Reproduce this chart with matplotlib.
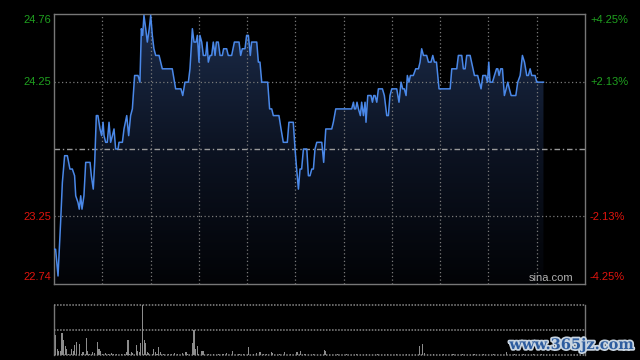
import matplotlib
matplotlib.use('Agg')
import matplotlib.pyplot as plt
import numpy as np
from matplotlib.colors import LinearSegmentedColormap
import matplotlib.patheffects as pe

plt.rcParams['font.family'] = ['Liberation Sans', 'DejaVu Sans']

prev_close = 23.75
price_span = 1.01

minutes = [0.0, 1.0, 2.5, 4.1, 5.2, 6.6, 8.3, 9.9, 11.4, 12.8, 13.5, 14.9, 15.7, 16.6, 17.4, 18.6,
           19.7, 22.4, 23.2, 24.4, 25.3, 26.3, 27.3, 28.6, 29.6, 30.5, 31.1, 32.1, 33.1, 34.2, 35.2,
           36.3, 37.3, 38.3, 39.8, 40.4, 42.5, 43.5, 45.2, 46.4, 47.6, 48.7, 50.1, 52.2, 53.4, 54.3,
           55.1, 55.9, 57.0, 58.0, 59.2, 60.1, 61.1, 62.1, 63.2, 65.3, 67.3, 73.5, 75.6, 78.9, 80.0,
           81.4, 83.5, 84.5, 86.0, 87.0, 88.3, 89.1, 90.1, 90.7, 91.8, 92.8, 94.3, 95.1, 95.9, 97.0,
           98.0, 99.0, 100.1, 100.9, 102.1, 103.2, 104.6, 105.4, 107.3, 108.3, 110.4, 112.1, 115.0,
           116.0, 117.0, 118.7, 119.7, 120.8, 122.0, 122.8, 126.0, 127.0, 128.0, 129.1, 132.8, 134.0,
           135.3, 136.3, 139.8, 141.1, 142.5, 145.0, 146.0, 148.7, 149.8,
           150.8, 151.9, 152.9, 153.9, 155.0, 157.1, 158.1, 159.1, 160.2, 161.2, 162.2, 163.3, 166.4,
           167.6, 168.9, 172.6, 173.6, 175.1, 185.0, 186.1, 186.7, 187.5, 188.3, 189.2, 190.4, 191.2,
           192.3, 193.3, 193.9, 195.0, 197.0, 197.9, 198.7, 199.5, 200.6, 201.6, 204.1, 205.3, 206.8,
           207.8, 208.8, 209.9, 213.0, 214.4, 215.7, 216.7, 217.7, 218.8, 219.6, 220.6, 221.5, 223.3,
           224.8, 226.5, 227.5, 228.5, 229.6, 231.6, 232.7, 234.3, 235.4, 236.4, 237.7, 239.3, 246.2,
           247.2, 250.3, 251.3, 253.4, 254.4, 255.5, 256.5, 258.6, 261.3, 263.3, 265.4, 266.5, 268.3,
           269.4, 270.2, 271.0, 272.5, 273.7, 275.0, 275.8, 276.6, 277.6, 278.7, 279.9, 281.0, 282.0,
           283.0, 284.1, 287.0, 288.2, 289.7, 291.1, 292.4, 293.8, 294.8, 295.9, 296.9, 299.0, 300.0,
           304.2]
prices = [23.00, 23.00, 22.80, 23.20, 23.50, 23.70, 23.70, 23.60, 23.60, 23.55, 23.40, 23.35, 23.30, 23.40, 23.30, 23.40,
          23.65, 23.65, 23.55, 23.45, 23.65, 24.00, 24.00, 23.90, 23.85, 23.95, 23.85, 23.80, 23.80, 23.95, 23.80,
          23.85, 23.90, 23.75, 23.75, 23.80, 23.80, 23.90, 24.00, 23.85, 24.00, 24.05, 24.30, 24.30, 24.25, 24.65,
          24.60, 24.75, 24.65, 24.55, 24.65, 24.75, 24.60, 24.50, 24.45, 24.45, 24.35, 24.35, 24.20, 24.20, 24.15,
          24.25, 24.25, 24.35, 24.65, 24.55, 24.55, 24.60, 24.40, 24.60, 24.55, 24.45, 24.45, 24.55, 24.40, 24.45,
          24.45, 24.55, 24.45, 24.55, 24.55, 24.45, 24.45, 24.50, 24.50, 24.45, 24.45, 24.55, 24.55,
          24.45, 24.50, 24.50, 24.60, 24.60, 24.45, 24.55, 24.55, 24.40, 24.40, 24.25, 24.25, 24.05,
          24.05, 24.00, 24.00, 23.90, 23.80, 23.80, 23.95, 23.95, 23.75,
          23.60, 23.45, 23.60, 23.60, 23.75, 23.75, 23.55, 23.55, 23.60, 23.60, 23.75, 23.80, 23.80,
          23.65, 23.90, 23.90, 23.95, 24.05, 24.05, 24.10, 24.05, 24.05, 24.10, 24.05, 24.00, 24.10,
          24.00, 24.10, 23.95, 24.15, 24.15, 24.10, 24.15, 24.15, 24.10, 24.20, 24.20, 24.15, 24.00,
          24.00, 24.15, 24.20, 24.20, 24.10, 24.25, 24.20, 24.20, 24.15, 24.30, 24.25, 24.30, 24.30,
          24.35, 24.35, 24.40, 24.50, 24.45, 24.45, 24.40, 24.40, 24.45, 24.40, 24.40, 24.20, 24.20,
          24.35, 24.35, 24.45, 24.45, 24.35, 24.35, 24.45, 24.45, 24.30, 24.30, 24.20, 24.30, 24.30,
          24.25, 24.40, 24.25, 24.25, 24.30, 24.35, 24.35, 24.30, 24.35, 24.35, 24.15, 24.20, 24.25,
          24.20, 24.15, 24.15, 24.25, 24.30, 24.45, 24.40, 24.30, 24.30, 24.35, 24.30, 24.30, 24.25,
          24.25]

vol_minutes = [0, 1, 2, 3, 4, 5, 6, 7, 8, 9, 11, 12, 13, 14, 16, 17, 18, 20, 21, 22, 24, 25, 27, 28, 29,
               30, 32, 34, 36, 37, 39, 42, 44, 45, 46, 47, 48, 49, 51, 52, 53, 54, 55, 56, 57, 58, 59,
               61, 62, 63, 64, 65, 66, 68, 71, 73, 75, 77, 80, 82, 83, 86, 87, 88, 89, 90, 92, 93, 96,
               99, 102, 105, 107, 111, 115, 118, 121, 124, 126, 128, 130, 132, 135, 136, 140, 143, 147,
               151, 153, 156, 161, 168, 169, 176, 182, 188, 194, 201, 207, 213, 219, 227, 229, 230, 236,
               242, 248, 254, 261, 267, 273, 281, 286, 292, 298, 303]
volumes = [65, 40, 13, 8, 8, 45, 30, 18, 13, 3, 12, 8, 20, 26, 22, 3, 7, 34, 8, 3, 7, 5, 27, 12, 8,
           3, 5, 3, 5, 2, 3, 3, 3, 7, 30, 3, 7, 5, 20, 8, 7, 25, 100, 30, 25, 7, 5,
           3, 13, 7, 3, 17, 7, 3, 3, 3, 5, 3, 5, 7, 3, 25, 50, 13, 19, 3, 8, 8, 3,
           3, 3, 3, 5, 8, 3, 3, 17, 3, 5, 7, 3, 3, 7, 5, 3, 7, 3,
           7, 9, 3, 3, 10, 8, 3, 3, 3, 3, 3, 3, 3, 3, 18, 22, 5, 3,
           3, 3, 3, 3, 3, 3, 7, 3, 3, 3, 3]

left_labels = ['24.76', '24.25', '23.25', '22.74']
right_labels = ['+4.25%', '+2.13%', '-2.13%', '-4.25%']
label_colors = ['#1fa01f', '#1fa01f', '#e0140e', '#e0140e']
label_ypix = [20, 82, 217, 277]

W, H = 640, 360
fig = plt.figure(figsize=(6.4, 3.6), dpi=100, facecolor='black')

ymin, ymax = prev_close - price_span, prev_close + price_span
ax = fig.add_axes([54 / W, 1 - 284 / H, 531 / W, 270 / H])
ax.set_facecolor('black')

# gradient fill under line
poly = ax.fill_between(minutes, prices, ymin, color='none', lw=0)
grad = np.linspace(0, 1, 256).reshape(-1, 1)
cmap = LinearSegmentedColormap.from_list('g', ['#020306', '#0c1322', '#1c2c4a'])
im = ax.imshow(grad, extent=[0, 330, ymin, ymax], aspect='auto', cmap=cmap,
               origin='lower', zorder=1)
im.set_clip_path(poly.get_paths()[0], transform=ax.transData)

# grid
for m in range(30, 330, 30):
    ax.axvline(m, color='#7a7a7a', lw=0.9, ls=(0, (1, 2)), zorder=2)
for yv in [prev_close + price_span / 2, prev_close - price_span / 2]:
    ax.axhline(yv, color='#7a7a7a', lw=0.9, ls=(0, (1, 2)), zorder=2)
ax.axhline(prev_close, color='#9a9a9a', lw=1.0, ls=(0, (4, 2, 1, 2)), zorder=2)

ax.plot(minutes, prices, color='#4a88e8', lw=1.1, zorder=4)
ax.set_xlim(0, 330)
ax.set_ylim(ymin, ymax)
ax.set_xticks([])
ax.set_yticks([])
for s in ax.spines.values():
    s.set_color('#777777')
    s.set_linewidth(1)

for lab, rlab, col, yp in zip(left_labels, right_labels, label_colors, label_ypix):
    fig.text(51 / W, 1 - yp / H, lab, ha='right', va='center', color=col, fontsize=8)
    fig.text(590 / W, 1 - yp / H, rlab, ha='left', va='center', color=col, fontsize=8)

fig.text(573 / W, 1 - 278 / H, 'sina.com', ha='right', va='center', color='#b0b0b0', fontsize=8)

# volume panel
vax = fig.add_axes([54 / W, 1 - 355 / H, 531 / W, 50 / H])
vax.set_facecolor('black')
vmax = max(volumes)
vax.bar(vol_minutes, volumes, width=0.7, color='#8c8c8c', linewidth=0)
vax.set_xlim(0, 330)
vax.set_ylim(0, vmax)
vax.set_xticks([])
vax.set_yticks([])
for side in ['top', 'bottom']:
    vax.spines[side].set_visible(False)
for side in ['left', 'right']:
    vax.spines[side].set_color('#777777')
    vax.spines[side].set_linewidth(1)
for yv in [vmax, vmax / 2, 0]:
    vax.axhline(yv, color='#8a8a8a', lw=1.1, ls=(0, (1, 1)), clip_on=False, zorder=3)

fig.text(634 / W, 1 - 345 / H, 'www.365jz.com', ha='right', va='center', fontsize=10.5,
         fontweight='bold', family='DejaVu Serif', color='#2d5c9e',
         path_effects=[pe.withStroke(linewidth=2.5, foreground='#c8d4e0')])

fig.savefig('out.png', dpi=100, facecolor='black')
